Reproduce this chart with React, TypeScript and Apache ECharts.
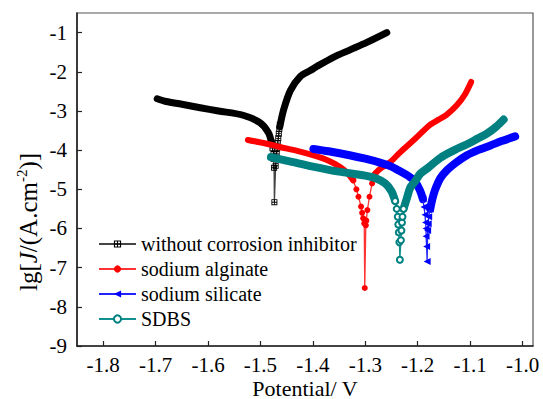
import React, { useEffect, useRef } from "react";
import * as echarts from "echarts";

// ---------- data ----------
const xTicks = [-1.8, -1.7, -1.6, -1.5, -1.4, -1.3, -1.2, -1.1, -1.0];
const yTicks = [-9, -8, -7, -6, -5, -4, -3, -2, -1];
const seriesNames = [
  "without corrosion inhibitor",
  "sodium alginate",
  "sodium silicate",
  "SDBS",
];

// without corrosion inhibitor
const blackCathodic: number[][] = [
  [-1.697, -2.69], [-1.68, -2.76], [-1.65, -2.83], [-1.615, -2.92], [-1.58, -3.0],
  [-1.533, -3.11], [-1.501, -3.3], [-1.485, -3.55], [-1.479, -3.8],
];
const blackTail: number[][] = [
  [-1.479, -3.8], [-1.477, -3.95], [-1.475, -4.1], [-1.475, -4.22], [-1.474, -4.45],
  [-1.4734, -5.33], [-1.471, -4.4], [-1.469, -4.1], [-1.468, -3.95], [-1.467, -3.82],
  [-1.466, -3.7], [-1.465, -3.58], [-1.464, -3.46], [-1.463, -3.35],
];
const blackAnodic: number[][] = [
  [-1.463, -3.4], [-1.456, -2.98], [-1.443, -2.48], [-1.424, -2.12], [-1.405, -1.97],
  [-1.392, -1.86], [-1.361, -1.63], [-1.329, -1.44], [-1.297, -1.25], [-1.259, -1.0],
];

// sodium alginate
const redCathodic: number[][] = [
  [-1.524, -3.74], [-1.49, -3.83], [-1.463, -3.92], [-1.43, -4.02], [-1.4, -4.13],
  [-1.37, -4.27], [-1.348, -4.43], [-1.333, -4.6], [-1.323, -4.77],
];
const redTail: number[][] = [
  [-1.323, -4.77], [-1.317, -5.0], [-1.313, -5.19], [-1.308, -5.44], [-1.306, -5.6],
  [-1.304, -5.74], [-1.302, -5.87], [-1.301, -7.52], [-1.299, -5.92], [-1.298, -5.8],
  [-1.296, -5.53], [-1.292, -5.19], [-1.287, -4.85], [-1.281, -4.6],
];
const redAnodic: number[][] = [
  [-1.281, -4.6], [-1.272, -4.48], [-1.252, -4.3], [-1.233, -4.05], [-1.208, -3.75],
  [-1.19, -3.52], [-1.176, -3.35], [-1.16, -3.22], [-1.145, -3.1], [-1.125, -2.85],
  [-1.11, -2.58], [-1.098, -2.26],
];

// sodium silicate
const blueCathodic: number[][] = [
  [-1.399, -3.97], [-1.37, -4.03], [-1.33, -4.13], [-1.3, -4.22], [-1.272, -4.32],
  [-1.25, -4.42], [-1.236, -4.52], [-1.22, -4.64], [-1.205, -4.8], [-1.195, -5.05],
  [-1.19, -5.25],
];
const blueTail: number[][] = [
  [-1.19, -5.25], [-1.188, -5.45], [-1.186, -5.65], [-1.185, -5.85], [-1.184, -6.0],
  [-1.184, -6.2], [-1.183, -6.46], [-1.182, -6.84], [-1.181, -6.05], [-1.18, -5.88],
  [-1.179, -5.7], [-1.176, -5.5],
];
const blueAnodic: number[][] = [
  [-1.176, -5.5], [-1.172, -5.25], [-1.167, -5.02], [-1.157, -4.72], [-1.144, -4.51],
  [-1.125, -4.3], [-1.106, -4.13], [-1.085, -4.0], [-1.061, -3.88], [-1.04, -3.77],
  [-1.014, -3.65],
];

// SDBS
const tealCathodic: number[][] = [
  [-1.48, -4.18], [-1.44, -4.3], [-1.4, -4.42], [-1.35, -4.55], [-1.3, -4.65],
  [-1.28, -4.72], [-1.262, -4.85], [-1.25, -5.05], [-1.243, -5.3],
];
const tealTail: number[][] = [
  [-1.243, -5.3], [-1.24, -5.5], [-1.238, -5.7], [-1.237, -5.9], [-1.236, -6.1],
  [-1.235, -6.35], [-1.234, -6.8], [-1.232, -6.3], [-1.231, -6.05], [-1.23, -5.85],
  [-1.229, -5.7], [-1.227, -5.5],
];
const tealAnodic: number[][] = [
  [-1.227, -5.5], [-1.22, -5.2], [-1.214, -4.95], [-1.205, -4.8], [-1.195, -4.6],
  [-1.18, -4.45], [-1.157, -4.2], [-1.13, -4.0], [-1.106, -3.85], [-1.085, -3.7],
  [-1.068, -3.58], [-1.05, -3.4], [-1.036, -3.22],
];

const yAxisTitle = "{a|lg[}{i|J}{a|/(A.cm}{s|-2}{a|)]}";
const xAxisTitle = "Potential/ V";

// ---------- styles ----------
const FONT = "Liberation Serif";
const squarePath =
  "path://M0 0H10V10H0Z M1.5 1.5V4.3H4.3V1.5Z M5.7 1.5V4.3H8.5V1.5Z M1.5 5.7V8.5H4.3V5.7Z M5.7 5.7V8.5H8.5V5.7Z";

const curves = [
  { name: seriesNames[0], color: "#000000", thin: "#444444", width: 7, symbol: squarePath, size: 6, rotate: 0, empty: false, cath: blackCathodic, tail: blackTail, anod: blackAnodic },
  { name: seriesNames[1], color: "#ff0000", thin: "#ff3333", width: 6, symbol: "circle", size: 6, rotate: 0, empty: false, cath: redCathodic, tail: redTail, anod: redAnodic },
  { name: seriesNames[2], color: "#0000ff", thin: "#2222ff", width: 8, symbol: "triangle", size: 7, rotate: 90, empty: false, cath: blueCathodic, tail: blueTail, anod: blueAnodic },
  { name: seriesNames[3], color: "#008080", thin: "#119090", width: 8, symbol: "emptyCircle", size: 6, rotate: 0, empty: true, cath: tealCathodic, tail: tealTail, anod: tealAnodic },
];

function buildSeries() {
  const out: any[] = [];
  curves.forEach((c, i) => {
    const thick = (data: number[][], k: string) => ({
      type: "line",
      name: `_${i}_${k}`,
      data,
      smooth: 0.3,
      symbol: "none",
      silent: true,
      lineStyle: { color: c.color, width: c.width, cap: "round", join: "round" },
      z: 2 + i,
    });
    out.push(thick(c.cath, "c"));
    out.push(thick(c.anod, "a"));
    out.push({
      type: "line",
      name: c.name,
      data: c.tail,
      smooth: false,
      symbol: c.symbol,
      symbolSize: c.size,
      symbolRotate: c.rotate,
      showAllSymbol: true,
      lineStyle: { color: c.thin, width: 1.3 },
      itemStyle: {
        color: c.color,
        borderColor: c.color,
        borderWidth: c.empty ? 1.3 : 0,
      },
      z: 2 + i,
    });
  });
  return out;
}

export default function App() {
  const ref = useRef<HTMLDivElement>(null);
  useEffect(() => {
    if (!ref.current) return;
    const chart = echarts.init(ref.current, null, { renderer: "svg" });
    chart.setOption({
      animation: false,
      backgroundColor: "#ffffff",
      textStyle: { fontFamily: FONT },
      grid: {
        left: 77,
        top: 13,
        right: 10,
        bottom: 53,
        outerBoundsMode: "none",
        show: true,
        borderColor: "#555555",
        borderWidth: 1.2,
        containLabel: false,
      },
      graphic: [
        {
          type: "text",
          x: 28,
          y: 222,
          rotation: Math.PI / 2,
          style: {
            text: yAxisTitle,
            align: "center",
            verticalAlign: "middle",
            fontFamily: FONT,
            fontSize: 25,
            fill: "#000",
            rich: {
              a: { fontFamily: FONT, fontSize: 25, fill: "#000", lineHeight: 27 },
              i: { fontFamily: FONT, fontSize: 25, fontStyle: "italic", fill: "#000", lineHeight: 27 },
              s: { fontFamily: FONT, fontSize: 15, fill: "#000", verticalAlign: "top", lineHeight: 15 },
            },
          },
        },
        {
          type: "text",
          x: 305,
          y: 398,
          style: {
            text: xAxisTitle,
            align: "center",
            verticalAlign: "bottom",
            fontFamily: FONT,
            fontSize: 22,
            lineHeight: 20,
            fill: "#000",
          },
        },
      ],
      legend: {
        data: seriesNames.map((n) => ({ name: n })),
        orient: "vertical",
        left: 93,
        top: 229,
        itemWidth: 37,
        itemHeight: 9,
        itemGap: 5,
        textStyle: { fontFamily: FONT, fontSize: 20, color: "#000", lineHeight: 19 },
        selectedMode: false,
      },
      xAxis: {
        type: "value",
        min: -1.85,
        max: -0.98,
        axisLine: { onZero: false, lineStyle: { color: "#222", width: 1.6 } },
        axisTick: { inside: true, length: 5, customValues: xTicks, lineStyle: { color: "#222", width: 1.2 } },
        axisLabel: {
          customValues: xTicks,
          margin: 9,
          fontFamily: FONT,
          fontSize: 21,
          lineHeight: 20,
          color: "#000",
          formatter: (v: number) => v.toFixed(1),
        },
        splitLine: { show: false },
      },
      yAxis: {
        type: "value",
        min: -9,
        max: -0.5,
        axisLine: { onZero: false, lineStyle: { color: "#222", width: 1.6 } },
        axisTick: { inside: true, length: 5, customValues: yTicks, lineStyle: { color: "#222", width: 1.2 } },
        axisLabel: {
          customValues: yTicks,
          margin: 10,
          fontFamily: FONT,
          fontSize: 21,
          color: "#000",
          formatter: (v: number) => String(Math.round(v)),
        },
        splitLine: { show: false },
      },
      series: buildSeries(),
    });
    return () => chart.dispose();
  }, []);
  return (
    <div
      ref={ref}
      style={{ position: "fixed", left: 0, top: 0, width: 543, height: 399 }}
    />
  );
}
